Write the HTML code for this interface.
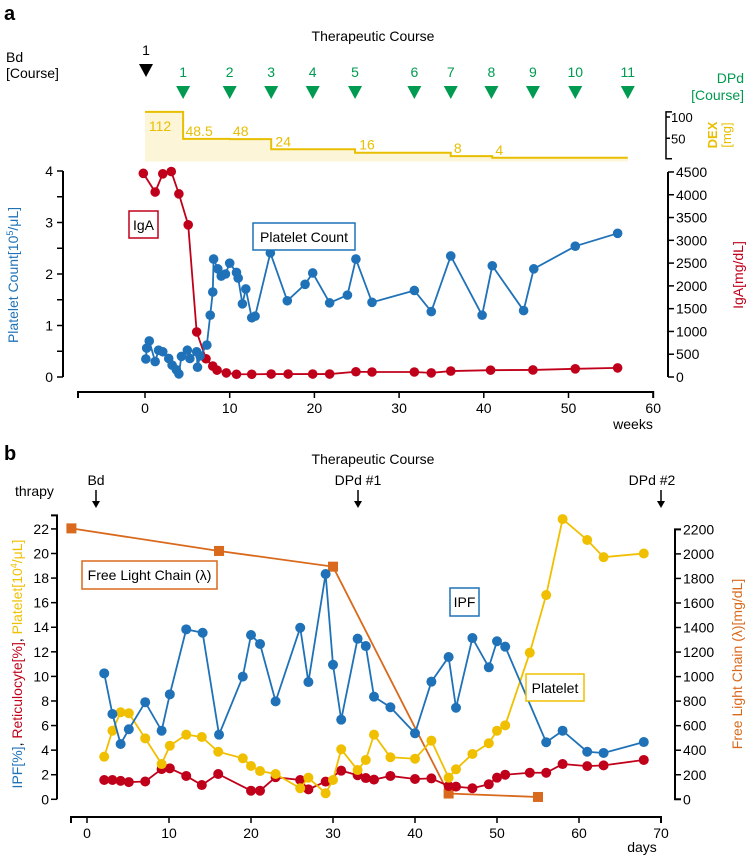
<!DOCTYPE html>
<html><head><meta charset="utf-8">
<style>
html,body{margin:0;padding:0;background:#fff;}
svg{display:block;font-family:"Liberation Sans","DejaVu Sans",sans-serif;}
</style></head>
<body>
<svg id="chart" width="750" height="856" viewBox="0 0 750 856" xmlns="http://www.w3.org/2000/svg">
  <text x="4" y="20" font-size="20" font-weight="bold">a</text>
  <text x="373" y="41" font-size="14" text-anchor="middle">Therapeutic Course</text>
  <text x="6" y="62" font-size="14">Bd</text>
  <text x="6" y="78" font-size="14">[Course]</text>
  <text x="146" y="55" font-size="14" text-anchor="middle">1</text>
  <polygon points="139,64 153,64 146,77" fill="#000"/>
  <text x="744" y="83" font-size="14" fill="#009a50" text-anchor="end">DPd</text>
  <text x="744" y="100" font-size="14" fill="#009a50" text-anchor="end">[Course]</text>
  <g id="dpd"></g>
  <g id="dex"></g>
  <text transform="translate(717,135) rotate(-90)" font-size="13" fill="#e8bf00" text-anchor="middle" font-weight="bold">DEX</text>
  <text transform="translate(731,135) rotate(-90)" font-size="13" fill="#e8bf00" text-anchor="middle">[mg]</text>
  <g id="pa"></g>
  <text transform="translate(18,275) rotate(-90)" font-size="14" fill="#1f72b8" text-anchor="middle">Platelet Count[10<tspan font-size="9" dy="-5">5</tspan><tspan dy="5">/μL]</tspan></text>
  <text transform="translate(743,275) rotate(-90)" font-size="14" fill="#c0001a" text-anchor="middle">IgA[mg/dL]</text>
  <text x="633" y="429" font-size="14" text-anchor="middle">weeks</text>
  <rect x="129" y="211" width="29" height="27" fill="#fff" stroke="#c0001a" stroke-width="1.5"/>
  <text x="143.5" y="230" font-size="14" text-anchor="middle">IgA</text>
  <rect x="253" y="223" width="102" height="27" fill="#fff" stroke="#1f72b8" stroke-width="1.5"/>
  <text x="304" y="242" font-size="14" text-anchor="middle">Platelet Count</text>

  <text x="4" y="460" font-size="20" font-weight="bold">b</text>
  <text x="373" y="464" font-size="14" text-anchor="middle">Therapeutic Course</text>
  <text x="15" y="496" font-size="14">thrapy</text>
  <text x="96" y="485" font-size="14" text-anchor="middle">Bd</text>
  <text x="358" y="485" font-size="14" text-anchor="middle">DPd #1</text>
  <text x="652" y="485" font-size="14" text-anchor="middle">DPd #2</text>
  <g stroke="#000" stroke-width="1.5" fill="#000">
    <line x1="96" y1="490" x2="96" y2="502"/><polygon points="92,501 100,501 96,508" stroke="none"/>
    <line x1="358" y1="490" x2="358" y2="502"/><polygon points="354,501 362,501 358,508" stroke="none"/>
    <line x1="661" y1="490" x2="661" y2="502"/><polygon points="657,501 665,501 661,508" stroke="none"/>
  </g>
  <g id="pb"></g>
  <text transform="translate(22,664) rotate(-90)" font-size="14" text-anchor="middle"><tspan fill="#1f72b8">IPF[%]</tspan><tspan fill="#000">, </tspan><tspan fill="#c0001a">Reticulocyte[%]</tspan><tspan fill="#000">, </tspan><tspan fill="#f0c000">Platelet[10<tspan font-size="9" dy="-5">4</tspan><tspan dy="5">/μL]</tspan></tspan></text>
  <text transform="translate(742,664) rotate(-90)" font-size="14" fill="#d9691c" text-anchor="middle">Free Light Chain (λ)[mg/dL]</text>
  <text x="642" y="852" font-size="14" text-anchor="middle">days</text>
  <rect x="82" y="561" width="135" height="28" fill="#fff" stroke="#d9691c" stroke-width="1.5"/>
  <text x="149.5" y="580" font-size="14" text-anchor="middle">Free Light Chain (λ)</text>
  <rect x="450" y="588" width="29" height="28" fill="#fff" stroke="#1f72b8" stroke-width="1.5"/>
  <text x="464.5" y="607" font-size="14" text-anchor="middle">IPF</text>
  <rect x="526" y="674" width="58" height="27" fill="#fff" stroke="#f0c000" stroke-width="1.5"/>
  <text x="555" y="693" font-size="14" text-anchor="middle">Platelet</text>
</svg>
<script>
// ---------- Panel a data ----------
const dpdCourses = [1,2,3,4,5,6,7,8,9,10,11];
const dpdWeeks = [4.5,10,14.9,19.8,24.8,31.8,36.1,40.9,45.8,50.8,57];
const dexStart = [0,4.5,10,14.9,24.8,36.1,41];
const dexEnd = [4.5,10,14.9,24.8,36.1,41,57];
const dexDose = [112,48.5,48,24,16,8,4];
const dexLabels = ["112","48.5","48","24","16","8","4"];
const dexTicks = [50,100];
const plateletWeeks = [0.1,0.2,0.5,1.2,1.6,2.1,2.8,3.2,3.7,4.0,4.3,5.0,5.3,6.1,6.2,6.5,7.3,7.7,8.0,8.1,8.6,9.0,9.5,10.0,10.8,11.0,11.5,11.9,12.6,13.0,14.8,16.8,18.9,19.8,21.8,23.9,24.9,26.8,31.8,33.8,36.1,39.8,41.0,44.7,45.9,50.8,55.8];
const plateletCount = [0.35,0.56,0.7,0.3,0.52,0.49,0.36,0.23,0.14,0.06,0.4,0.52,0.36,0.49,0.19,0.41,0.62,1.2,1.65,2.29,2.1,1.96,2.0,2.21,2.03,1.92,1.42,1.71,1.15,1.18,2.41,1.48,1.8,2.02,1.44,1.59,2.29,1.45,1.68,1.27,2.35,1.2,2.16,1.29,2.1,2.54,2.79];
const igaWeeks = [-0.2,1.2,2.1,3.1,4.0,5.1,6.1,7.2,8.0,8.5,9.6,10.8,12.6,14.9,16.9,19.8,21.8,24.9,26.8,31.8,33.8,36.1,40.8,45.8,50.8,55.8];
const igaValues = [4470,4060,4460,4510,4020,3340,990,400,240,150,90,60,60,65,65,65,65,115,110,110,90,130,150,155,180,200];
const weekTicks = [0,10,20,30,40,50,60];
const plateletTicks = [0,1,2,3,4];
const igaTicks = [0,500,1000,1500,2000,2500,3000,3500,4000,4500];

// ---------- Panel b data ----------
const ipfDays = [2.1,3.1,4.1,5.1,7.1,9.1,10.1,12.1,14.1,16.1,19.0,20.0,21.1,23.0,26.0,27.0,29.1,30.0,31.0,33.0,34.0,35.0,37.0,40.0,42.0,44.1,45.0,47.0,49.0,50.0,51.0,56.0,58.0,61.0,63.0,67.9];
const ipfValues = [10.25,6.94,4.5,5.7,7.9,5.58,8.54,13.83,13.55,5.26,9.98,13.37,12.64,7.97,13.96,9.54,18.33,10.95,6.48,13.07,12.47,8.35,7.49,5.37,9.57,11.58,7.45,13.12,10.74,12.86,12.42,4.64,5.58,3.87,3.77,4.66];
const pltDays = [2.1,3.1,4.1,5.1,7.1,9.1,10.1,12.1,14.0,16.0,19.0,20.0,21.1,23.0,26.0,27.0,29.1,30.0,31.0,33.0,34.0,35.0,37.0,40.0,42.0,44.1,45.0,47.0,49.0,50.0,51.0,54.0,56.0,58.0,61.0,63.0,67.9];
const pltValues = [3.47,5.58,7.08,7.0,4.96,2.87,4.36,5.26,5.07,3.87,3.34,2.71,2.3,2.06,0.9,1.76,0.49,1.57,4.07,2.38,3.2,5.26,3.42,3.3,4.77,1.76,2.44,3.69,4.56,5.58,6.02,11.93,16.62,22.8,21.1,19.7,20.0];
const retDays = [2.1,3.1,4.1,5.1,7.1,9.1,10.1,12.1,14.0,16.0,20.0,21.1,23.0,26.0,27.0,29.1,31.0,33.0,34.0,35.0,37.0,40.0,42.0,44.1,45.0,47.0,49.0,50.0,51.0,54.0,56.0,58.0,61.0,63.0,67.9];
const retValues = [1.57,1.57,1.5,1.4,1.45,2.46,2.52,1.9,1.16,2.06,0.7,0.7,1.8,1.57,0.81,1.44,2.33,1.96,1.73,1.6,1.9,1.65,1.7,1.08,1.03,0.9,1.22,1.76,2.0,2.16,2.16,2.87,2.7,2.76,3.2];
const flcDays = [-1.9,16.1,30.0,44.1,55.0];
const flcValues = [2208,2024,1896,47,19];
const dayTicks = [0,10,20,30,40,50,60,70];
const leftBTicks = [0,2,4,6,8,10,12,14,16,18,20,22];
const flcTicks = [0,200,400,600,800,1000,1200,1400,1600,1800,2000,2200];

const xa = w => 145 + 8.47*w;
const ya = v => 377 - 51.5*v;
const yi = v => 377 - v*0.04556;
const yd = v => 159.5 - 0.425*v;
const xb = d => 87 + 8.2*d;
const yb = v => 799.3 - 12.29*v;
const yf = v => 799.3 - v*0.1227;

const NS = "http://www.w3.org/2000/svg";
function mk(tag, parent, attrs){
  const e = document.createElementNS(NS, tag);
  for (const k in attrs) e.setAttribute(k, attrs[k]);
  parent.appendChild(e);
  return e;
}
const C = {blue:"#1f72b8", red:"#c0001a", yellow:"#f0c000", orange:"#d9691c", green:"#009a50", dex:"#e8bf00"};

const gd = document.getElementById("dpd");
dpdWeeks.forEach((w,i)=>{
  const x = xa(w);
  const t = mk("text", gd, {x:x, y:77, "font-size":14, fill:C.green, "text-anchor":"middle"});
  t.textContent = dpdCourses[i];
  
  
  const p = mk("polygon", gd, {points:`${x-7},86 ${x+7},86 ${x},99`, fill:C.green});
  
  
});

const gx = document.getElementById("dex");
let fillPts = `${xa(dexStart[0])},${yd(0)+2} `;
let linePts = "";
dexDose.forEach((v,i)=>{
  fillPts += `${xa(dexStart[i])},${yd(v)} ${xa(dexEnd[i])},${yd(v)} `;
  linePts += `${xa(dexStart[i])},${yd(v)} ${xa(dexEnd[i])},${yd(v)} `;
});
fillPts += `${xa(dexEnd[dexEnd.length-1])},${yd(0)+2}`;
const df = mk("polygon", gx, {points:fillPts, fill:"#fdf5d8", stroke:"none"});


const dl = mk("polyline", gx, {points:linePts, fill:"none", stroke:C.dex, "stroke-width":2});


const dexLabelOffX = [15,16,11,12,12,7,7];
dexDose.forEach((v,i)=>{
  const t = mk("text", gx, {x:xa(dexStart[i])+dexLabelOffX[i], y:yd(v)+ (i===0?19:-3), "font-size":14, fill:C.dex, "text-anchor":"middle"});
  t.textContent = dexLabels[i];
  
  
});
const dsp = mk("path", gx, {d:`M672,${yd(112)} H666 V${yd(4)+1} H672`, fill:"none", stroke:"#000", "stroke-width":1.5});


dexTicks.forEach(v=>{
  const t = mk("text", gx, {x:671, y:yd(v)+5, "font-size":13});
  t.textContent = v;
  
  
  const l = mk("line", gx, {x1:666, x2:670, y1:yd(v), y2:yd(v), stroke:"#000", "stroke-width":1.5});
  
  
});

const ga = document.getElementById("pa");
const ax1 = mk("path", ga, {d:`M63,${ya(4)} V${ya(0)}`, stroke:"#000", "stroke-width":2, fill:"none"});


for (let v=0; v<=4; v+=0.5){
  const l = mk("line", ga, {x1:57, x2:63, y1:ya(v), y2:ya(v), stroke:"#000", "stroke-width":1.5});
  
  
}
plateletTicks.forEach(v=>{
  const t = mk("text", ga, {x:53, y:ya(v)+5, "font-size":14, "text-anchor":"end"});
  t.textContent = v;
  
  
});
const ax2 = mk("path", ga, {d:`M668,${yi(4500)} V${yi(0)}`, stroke:"#000", "stroke-width":2, fill:"none"});


igaTicks.forEach(v=>{
  const l = mk("line", ga, {x1:668, x2:674, y1:yi(v), y2:yi(v), stroke:"#000", "stroke-width":1.5});
  
  
  const t = mk("text", ga, {x:676, y:yi(v)+5, "font-size":14});
  t.textContent = v;
  
  
});
const ax3 = mk("path", ga, {d:`M78,398 V392 H${xa(60)} V398`, stroke:"#000", "stroke-width":2, fill:"none"});


weekTicks.forEach(v=>{
  const l = mk("line", ga, {x1:xa(v), x2:xa(v), y1:392, y2:398, stroke:"#000", "stroke-width":1.5});
  
  
  const t = mk("text", ga, {x:xa(v), y:413, "font-size":14, "text-anchor":"middle"});
  t.textContent = v;
  
  
});

function series(g, xs, ys, fx, fy, color, r, name, square){
  const pts = xs.map((x,i)=>`${fx(x)},${fy(ys[i])}`).join(" ");
  const pl = mk("polyline", g, {points:pts, fill:"none", stroke:color, "stroke-width":1.8});
  
  
  xs.forEach((x,i)=>{
    let m;
    if (square) m = mk("rect", g, {x:fx(x)-r, y:fy(ys[i])-r, width:2*r, height:2*r, fill:color});
    else m = mk("circle", g, {cx:fx(x), cy:fy(ys[i]), r:r, fill:color});
    
    
  });
}
series(ga, igaWeeks, igaValues, xa, yi, C.red, 4.8, "iga");
series(ga, plateletWeeks, plateletCount, xa, ya, C.blue, 4.8, "platelet-count");

const gb = document.getElementById("pb");
const bx1 = mk("path", gb, {d:`M51,${yb(23.1)} H57 V${yb(0)}`, stroke:"#000", "stroke-width":2, fill:"none"});


leftBTicks.forEach(v=>{
  const l = mk("line", gb, {x1:51, x2:57, y1:yb(v), y2:yb(v), stroke:"#000", "stroke-width":1.5});
  
  
  const t = mk("text", gb, {x:49, y:yb(v)+5, "font-size":14, "text-anchor":"end"});
  t.textContent = v;
  
  
});
const bx2 = mk("path", gb, {d:`M681,${yf(2200)} H675 V${yf(0)} H681`, stroke:"#000", "stroke-width":2, fill:"none"});


flcTicks.forEach(v=>{
  const l = mk("line", gb, {x1:675, x2:681, y1:yf(v), y2:yf(v), stroke:"#000", "stroke-width":1.5});
  
  
  const t = mk("text", gb, {x:683, y:yf(v)+5, "font-size":14});
  t.textContent = v;
  
  
});
const bx3 = mk("path", gb, {d:`M71,823 V817 H${xb(70)} V823`, stroke:"#000", "stroke-width":2, fill:"none"});


dayTicks.forEach(v=>{
  const l = mk("line", gb, {x1:xb(v), x2:xb(v), y1:817, y2:823, stroke:"#000", "stroke-width":1.5});
  
  
  const t = mk("text", gb, {x:xb(v), y:838, "font-size":14, "text-anchor":"middle"});
  t.textContent = v;
  
  
});
series(gb, flcDays, flcValues, xb, yf, C.orange, 5, "flc", true);
series(gb, retDays, retValues, xb, yb, C.red, 5, "reticulocyte");
series(gb, pltDays, pltValues, xb, yb, C.yellow, 5, "platelet-b");
series(gb, ipfDays, ipfValues, xb, yb, C.blue, 5, "ipf");
</script>
</body></html>
